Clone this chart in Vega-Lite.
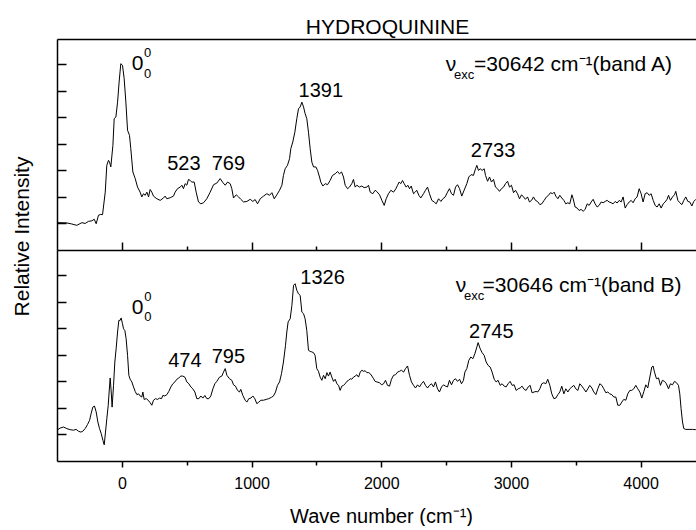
{
"$schema": "https://vega.github.io/schema/vega-lite/v6.json",
"background": "white",
"padding": {"left": 11, "top": 17, "right": 0, "bottom": 0},
"bounds": "flush",
"spacing": 0,
"config": {
  "font": "Liberation Sans",
  "view": {"stroke": null},
  "axis": {"domainColor": "black", "tickColor": "black", "domainWidth": 1.5, "tickWidth": 1.5, "grid": false, "labelColor": "black", "titleColor": "black", "labelFont": "Liberation Sans", "titleFont": "Liberation Sans", "titleFontWeight": "normal", "minExtent": 0},
  "text": {"font": "Liberation Sans", "color": "black"}
},
"datasets": {
  "specA": [
    {"x":-501,"y":1.03},{"x":-424,"y":1.02},{"x":-386,"y":0.98},{"x":-347,"y":0.93},{"x":-308,"y":1.03},{"x":-283,"y":1.00},{"x":-257,"y":1.08},{"x":-231,"y":1.10},{"x":-213,"y":1.16},{"x":-198,"y":0.99},{"x":-180,"y":1.31},{"x":-162,"y":1.34},{"x":-149,"y":1.33},{"x":-128,"y":2.18},{"x":-116,"y":3.19},{"x":-103,"y":3.38},{"x":-95,"y":3.31},{"x":-85,"y":3.13},{"x":-69,"y":3.94},{"x":-59,"y":4.95},{"x":-46,"y":5.01},{"x":-33,"y":5.57},{"x":-21,"y":6.33},{"x":-8,"y":7.02},{"x":5,"y":6.96},{"x":18,"y":6.45},{"x":31,"y":5.57},{"x":44,"y":4.51},{"x":59,"y":4.32},{"x":69,"y":3.82},{"x":85,"y":2.94},{"x":103,"y":2.69},{"x":121,"y":2.37},{"x":141,"y":2.18},{"x":154,"y":2.00},{"x":167,"y":2.12},{"x":180,"y":2.06},{"x":193,"y":2.18},{"x":206,"y":2.00},{"x":218,"y":2.28},{"x":231,"y":2.18},{"x":244,"y":2.03},{"x":270,"y":1.93},{"x":296,"y":1.87},{"x":321,"y":1.96},{"x":334,"y":2.03},{"x":347,"y":1.93},{"x":373,"y":1.97},{"x":398,"y":2.03},{"x":411,"y":2.18},{"x":429,"y":2.31},{"x":450,"y":2.37},{"x":463,"y":2.44},{"x":475,"y":2.31},{"x":488,"y":2.50},{"x":501,"y":2.44},{"x":514,"y":2.66},{"x":527,"y":2.62},{"x":540,"y":2.56},{"x":558,"y":2.56},{"x":573,"y":2.18},{"x":591,"y":1.81},{"x":609,"y":1.74},{"x":630,"y":1.78},{"x":655,"y":1.93},{"x":681,"y":2.18},{"x":707,"y":2.46},{"x":732,"y":2.52},
    {"x":758,"y":2.69},{"x":779,"y":2.54},{"x":797,"y":2.44},{"x":815,"y":2.56},{"x":835,"y":2.50},{"x":848,"y":2.31},{"x":861,"y":1.96},{"x":882,"y":2.08},{"x":900,"y":2.00},{"x":917,"y":1.91},{"x":938,"y":1.81},{"x":964,"y":1.83},{"x":990,"y":1.91},{"x":1010,"y":1.83},{"x":1028,"y":1.90},{"x":1046,"y":1.74},{"x":1067,"y":1.93},{"x":1092,"y":2.03},{"x":1118,"y":2.12},{"x":1139,"y":2.06},{"x":1157,"y":2.16},{"x":1175,"y":1.93},{"x":1195,"y":2.08},{"x":1216,"y":2.25},{"x":1234,"y":2.44},{"x":1246,"y":2.81},{"x":1259,"y":3.06},{"x":1277,"y":3.19},{"x":1293,"y":3.44},{"x":1303,"y":3.82},{"x":1318,"y":4.07},{"x":1334,"y":4.44},{"x":1349,"y":4.95},{"x":1362,"y":5.32},{"x":1375,"y":5.39},{"x":1388,"y":5.57},{"x":1401,"y":5.39},{"x":1413,"y":5.14},{"x":1426,"y":4.95},{"x":1439,"y":4.44},{"x":1452,"y":3.82},{"x":1465,"y":3.31},{"x":1478,"y":3.13},{"x":1496,"y":3.13},{"x":1509,"y":3.00},{"x":1524,"y":2.75},{"x":1534,"y":2.56},{"x":1550,"y":2.41},{"x":1568,"y":2.50},{"x":1586,"y":2.46},{"x":1606,"y":2.62},{"x":1624,"y":2.81},{"x":1645,"y":2.87},{"x":1663,"y":2.96},{"x":1678,"y":2.87},{"x":1694,"y":2.94},{"x":1709,"y":2.75},{"x":1722,"y":2.44},{"x":1740,"y":2.31},{"x":1755,"y":2.37},{"x":1773,"y":2.50},{"x":1786,"y":2.66},{"x":1799,"y":2.37},{"x":1812,"y":2.44},{"x":1832,"y":2.37},{"x":1850,"y":2.41},{"x":1868,"y":2.35},{"x":1889,"y":2.37},{"x":1902,"y":2.44},{"x":1915,"y":2.18},{"x":1935,"y":2.12},{"x":1953,"y":2.25},{"x":1966,"y":2.20},
    {"x":1987,"y":2.08},{"x":2005,"y":1.87},{"x":2023,"y":1.68},{"x":2038,"y":1.93},{"x":2056,"y":2.12},{"x":2074,"y":2.25},{"x":2095,"y":2.18},{"x":2113,"y":2.31},{"x":2126,"y":2.44},{"x":2138,"y":2.56},{"x":2151,"y":2.50},{"x":2164,"y":2.62},{"x":2177,"y":2.50},{"x":2192,"y":2.37},{"x":2205,"y":2.44},{"x":2218,"y":2.31},{"x":2231,"y":2.41},{"x":2249,"y":2.12},{"x":2262,"y":2.18},{"x":2274,"y":2.25},{"x":2290,"y":2.06},{"x":2305,"y":1.96},{"x":2326,"y":2.12},{"x":2341,"y":2.25},{"x":2357,"y":2.37},{"x":2372,"y":2.12},{"x":2390,"y":1.87},{"x":2408,"y":1.81},{"x":2424,"y":1.74},{"x":2442,"y":1.93},{"x":2460,"y":1.83},{"x":2475,"y":1.93},{"x":2493,"y":2.00},{"x":2511,"y":2.18},{"x":2526,"y":2.31},{"x":2542,"y":2.12},{"x":2557,"y":2.06},{"x":2573,"y":2.37},{"x":2588,"y":2.46},{"x":2604,"y":2.31},{"x":2621,"y":2.03},{"x":2639,"y":2.25},{"x":2660,"y":2.50},{"x":2675,"y":2.75},{"x":2693,"y":2.84},{"x":2711,"y":2.81},{"x":2727,"y":3.06},{"x":2737,"y":3.19},{"x":2750,"y":3.00},{"x":2763,"y":3.06},{"x":2778,"y":3.00},{"x":2794,"y":3.06},{"x":2804,"y":2.81},{"x":2820,"y":2.59},{"x":2835,"y":2.75},{"x":2850,"y":2.56},{"x":2866,"y":2.66},{"x":2881,"y":2.37},{"x":2896,"y":2.31},{"x":2912,"y":2.21},{"x":2927,"y":2.31},{"x":2943,"y":2.37},{"x":2958,"y":2.50},{"x":2974,"y":2.59},{"x":2989,"y":2.37},{"x":3004,"y":2.44},{"x":3020,"y":2.16},{"x":3035,"y":2.25},{"x":3051,"y":2.12},{"x":3066,"y":1.93},{"x":3082,"y":2.08},{"x":3097,"y":2.00},{"x":3112,"y":1.91},{"x":3128,"y":2.00},{"x":3143,"y":1.81},{"x":3159,"y":1.87},{"x":3174,"y":2.00},{"x":3189,"y":1.87},
    {"x":3205,"y":1.83},{"x":3223,"y":1.71},{"x":3238,"y":1.74},{"x":3256,"y":1.87},{"x":3274,"y":2.00},{"x":3290,"y":2.06},{"x":3305,"y":2.16},{"x":3321,"y":2.12},{"x":3333,"y":2.18},{"x":3346,"y":2.03},{"x":3362,"y":1.93},{"x":3377,"y":2.06},{"x":3392,"y":1.96},{"x":3408,"y":1.87},{"x":3423,"y":1.74},{"x":3439,"y":1.78},{"x":3454,"y":1.74},{"x":3470,"y":2.08},{"x":3480,"y":1.93},{"x":3495,"y":1.62},{"x":3511,"y":1.58},{"x":3526,"y":1.49},{"x":3541,"y":1.53},{"x":3557,"y":1.46},{"x":3572,"y":1.53},{"x":3588,"y":1.74},{"x":3603,"y":1.68},{"x":3619,"y":1.81},{"x":3634,"y":1.91},{"x":3649,"y":1.74},{"x":3665,"y":1.62},{"x":3680,"y":1.68},{"x":3696,"y":1.81},{"x":3711,"y":1.78},{"x":3727,"y":1.83},{"x":3742,"y":1.87},{"x":3757,"y":1.81},{"x":3773,"y":1.78},{"x":3788,"y":1.74},{"x":3804,"y":1.83},{"x":3819,"y":1.77},{"x":3835,"y":1.87},{"x":3850,"y":1.81},{"x":3865,"y":2.00},{"x":3881,"y":1.58},{"x":3896,"y":1.71},{"x":3912,"y":1.81},{"x":3927,"y":1.87},{"x":3942,"y":1.78},{"x":3958,"y":1.93},{"x":3973,"y":2.00},{"x":3989,"y":2.31},{"x":4004,"y":2.12},{"x":4019,"y":1.81},{"x":4035,"y":2.12},{"x":4050,"y":2.16},{"x":4066,"y":2.06},{"x":4081,"y":2.12},{"x":4097,"y":1.87},{"x":4112,"y":1.68},{"x":4127,"y":1.62},{"x":4143,"y":1.74},{"x":4158,"y":1.58},{"x":4174,"y":1.74},{"x":4189,"y":1.81},{"x":4204,"y":1.91},{"x":4215,"y":2.06},{"x":4230,"y":1.87},{"x":4246,"y":2.00},{"x":4261,"y":2.08},{"x":4271,"y":2.21},{"x":4287,"y":1.87},{"x":4302,"y":1.78},{"x":4318,"y":1.71},{"x":4333,"y":1.87},{"x":4348,"y":2.00},{"x":4364,"y":1.83},{"x":4379,"y":1.81},{"x":4395,"y":1.66},{"x":4410,"y":1.83},{"x":4426,"y":1.91}
  ],
  "specB": [
    {"x":-501,"y":1.16},{"x":-476,"y":1.24},{"x":-450,"y":1.28},{"x":-424,"y":1.22},{"x":-398,"y":1.18},{"x":-373,"y":1.16},{"x":-352,"y":1.19},{"x":-334,"y":1.12},{"x":-316,"y":1.09},{"x":-301,"y":1.12},{"x":-283,"y":1.22},{"x":-265,"y":1.37},{"x":-249,"y":1.53},{"x":-237,"y":1.78},{"x":-224,"y":2.03},{"x":-211,"y":2.07},{"x":-198,"y":1.85},{"x":-185,"y":1.47},{"x":-172,"y":1.22},{"x":-159,"y":1.03},{"x":-146,"y":0.78},{"x":-136,"y":0.61},{"x":-126,"y":1.09},{"x":-116,"y":1.59},{"x":-105,"y":2.10},{"x":-98,"y":2.60},{"x":-90,"y":3.13},{"x":-82,"y":2.60},{"x":-75,"y":2.03},{"x":-64,"y":2.85},{"x":-54,"y":3.73},{"x":-44,"y":4.23},{"x":-33,"y":4.86},{"x":-23,"y":5.30},{"x":-13,"y":5.30},{"x":-5,"y":5.39},{"x":5,"y":5.17},{"x":13,"y":4.98},{"x":23,"y":4.92},{"x":33,"y":4.61},{"x":44,"y":3.98},{"x":54,"y":3.23},{"x":64,"y":3.08},{"x":77,"y":2.98},{"x":90,"y":2.79},{"x":103,"y":2.62},{"x":116,"y":2.50},{"x":129,"y":2.53},{"x":141,"y":2.45},{"x":154,"y":2.41},{"x":162,"y":2.60},{"x":172,"y":2.32},{"x":188,"y":2.35},{"x":203,"y":2.29},{"x":218,"y":2.20},{"x":231,"y":2.10},{"x":244,"y":2.29},{"x":260,"y":2.35},{"x":275,"y":2.32},{"x":291,"y":2.37},{"x":306,"y":2.35},{"x":316,"y":2.47},{"x":332,"y":2.45},{"x":347,"y":2.50},{"x":362,"y":2.62},{"x":378,"y":2.79},{"x":393,"y":2.91},{"x":409,"y":2.98},{"x":424,"y":3.08},{"x":439,"y":3.13},{"x":455,"y":3.20},{"x":470,"y":3.20},{"x":486,"y":3.16},{"x":501,"y":2.98},{"x":517,"y":2.91},{"x":532,"y":2.79},{"x":547,"y":2.72},{"x":563,"y":2.60},{"x":578,"y":2.35},{"x":594,"y":2.35},{"x":609,"y":2.45},{"x":625,"y":2.37},{"x":640,"y":2.47},{"x":655,"y":2.35},{"x":671,"y":2.35},{"x":686,"y":2.45},{"x":702,"y":2.72},{"x":717,"y":2.91},{"x":732,"y":3.00},
    {"x":753,"y":3.16},{"x":771,"y":3.20},{"x":784,"y":3.35},{"x":797,"y":3.48},{"x":810,"y":3.23},{"x":830,"y":3.10},{"x":848,"y":3.04},{"x":861,"y":2.87},{"x":876,"y":2.82},{"x":892,"y":2.66},{"x":907,"y":2.60},{"x":917,"y":2.70},{"x":933,"y":2.47},{"x":951,"y":2.29},{"x":964,"y":2.22},{"x":979,"y":2.35},{"x":995,"y":2.37},{"x":1010,"y":2.45},{"x":1025,"y":2.35},{"x":1041,"y":2.16},{"x":1056,"y":2.22},{"x":1072,"y":2.29},{"x":1092,"y":2.29},{"x":1113,"y":2.32},{"x":1133,"y":2.35},{"x":1154,"y":2.40},{"x":1169,"y":2.45},{"x":1185,"y":2.60},{"x":1200,"y":2.85},{"x":1216,"y":2.98},{"x":1231,"y":3.29},{"x":1246,"y":3.73},{"x":1262,"y":4.36},{"x":1272,"y":4.86},{"x":1282,"y":5.24},{"x":1298,"y":5.36},{"x":1311,"y":5.86},{"x":1324,"y":6.62},{"x":1336,"y":6.68},{"x":1349,"y":6.43},{"x":1362,"y":6.30},{"x":1375,"y":6.24},{"x":1388,"y":5.61},{"x":1401,"y":5.55},{"x":1413,"y":5.36},{"x":1426,"y":4.92},{"x":1439,"y":4.17},{"x":1452,"y":4.13},{"x":1465,"y":4.11},{"x":1478,"y":4.08},{"x":1490,"y":3.98},{"x":1503,"y":3.48},{"x":1516,"y":3.38},{"x":1529,"y":3.16},{"x":1542,"y":3.04},{"x":1555,"y":3.23},{"x":1568,"y":3.10},{"x":1581,"y":3.33},{"x":1593,"y":3.20},{"x":1606,"y":3.35},{"x":1619,"y":3.16},{"x":1632,"y":3.00},{"x":1645,"y":3.08},{"x":1658,"y":2.91},{"x":1671,"y":2.85},{"x":1683,"y":2.66},{"x":1696,"y":2.82},{"x":1709,"y":2.85},{"x":1722,"y":2.91},{"x":1735,"y":3.00},{"x":1748,"y":3.04},{"x":1761,"y":3.10},{"x":1773,"y":3.08},{"x":1786,"y":3.16},{"x":1799,"y":3.20},{"x":1812,"y":3.25},{"x":1825,"y":3.16},{"x":1838,"y":3.35},{"x":1850,"y":3.42},{"x":1863,"y":3.38},{"x":1876,"y":3.40},{"x":1889,"y":3.33},{"x":1902,"y":3.33},{"x":1915,"y":3.29},{"x":1928,"y":3.20},{"x":1941,"y":3.10},{"x":1953,"y":3.00},{"x":1966,"y":2.98},
    {"x":1987,"y":2.95},{"x":2002,"y":2.87},{"x":2018,"y":2.91},{"x":2033,"y":3.04},{"x":2048,"y":2.85},{"x":2064,"y":2.82},{"x":2079,"y":3.08},{"x":2095,"y":3.23},{"x":2110,"y":3.25},{"x":2126,"y":3.35},{"x":2141,"y":3.38},{"x":2156,"y":3.42},{"x":2172,"y":3.35},{"x":2187,"y":3.48},{"x":2203,"y":3.58},{"x":2218,"y":3.23},{"x":2233,"y":2.98},{"x":2249,"y":2.85},{"x":2264,"y":2.75},{"x":2280,"y":2.87},{"x":2295,"y":2.79},{"x":2310,"y":2.91},{"x":2326,"y":3.00},{"x":2341,"y":2.85},{"x":2357,"y":2.75},{"x":2372,"y":2.85},{"x":2388,"y":2.91},{"x":2403,"y":2.79},{"x":2418,"y":2.98},{"x":2434,"y":2.72},{"x":2449,"y":2.60},{"x":2465,"y":2.79},{"x":2480,"y":2.87},{"x":2496,"y":2.82},{"x":2511,"y":2.79},{"x":2526,"y":3.04},{"x":2542,"y":2.87},{"x":2557,"y":3.04},{"x":2573,"y":3.10},{"x":2588,"y":3.00},{"x":2604,"y":3.08},{"x":2619,"y":2.91},{"x":2634,"y":3.04},{"x":2645,"y":3.35},{"x":2660,"y":3.48},{"x":2675,"y":3.79},{"x":2691,"y":3.92},{"x":2706,"y":3.85},{"x":2722,"y":4.04},{"x":2737,"y":4.29},{"x":2747,"y":4.46},{"x":2763,"y":4.23},{"x":2778,"y":4.08},{"x":2794,"y":3.98},{"x":2809,"y":3.73},{"x":2824,"y":3.60},{"x":2840,"y":3.54},{"x":2855,"y":3.35},{"x":2871,"y":3.08},{"x":2886,"y":2.98},{"x":2901,"y":3.04},{"x":2917,"y":2.85},{"x":2932,"y":2.91},{"x":2948,"y":2.82},{"x":2963,"y":2.79},{"x":2978,"y":2.91},{"x":2994,"y":3.00},{"x":3009,"y":2.85},{"x":3025,"y":2.87},{"x":3040,"y":2.66},{"x":3056,"y":2.72},{"x":3071,"y":2.75},{"x":3086,"y":2.82},{"x":3102,"y":2.70},{"x":3117,"y":2.66},{"x":3133,"y":2.79},{"x":3148,"y":2.85},{"x":3163,"y":2.57},{"x":3179,"y":2.60},{"x":3194,"y":2.62},
    {"x":3207,"y":2.60},{"x":3223,"y":2.72},{"x":3238,"y":2.91},{"x":3254,"y":2.95},{"x":3269,"y":2.91},{"x":3284,"y":3.08},{"x":3300,"y":2.85},{"x":3315,"y":2.53},{"x":3331,"y":2.35},{"x":3346,"y":2.37},{"x":3362,"y":2.50},{"x":3377,"y":2.60},{"x":3392,"y":2.82},{"x":3408,"y":2.53},{"x":3423,"y":2.72},{"x":3439,"y":2.60},{"x":3454,"y":2.72},{"x":3470,"y":2.79},{"x":3485,"y":2.85},{"x":3500,"y":2.72},{"x":3516,"y":2.66},{"x":3531,"y":2.91},{"x":3547,"y":2.82},{"x":3562,"y":2.72},{"x":3578,"y":2.60},{"x":3593,"y":2.72},{"x":3608,"y":2.85},{"x":3624,"y":2.75},{"x":3639,"y":2.60},{"x":3655,"y":2.50},{"x":3670,"y":2.72},{"x":3685,"y":2.91},{"x":3701,"y":2.85},{"x":3716,"y":2.72},{"x":3732,"y":2.57},{"x":3747,"y":2.60},{"x":3762,"y":2.53},{"x":3778,"y":2.50},{"x":3793,"y":2.41},{"x":3809,"y":2.41},{"x":3824,"y":2.10},{"x":3840,"y":2.10},{"x":3855,"y":2.22},{"x":3870,"y":2.32},{"x":3886,"y":2.29},{"x":3901,"y":2.53},{"x":3917,"y":2.66},{"x":3932,"y":2.66},{"x":3947,"y":2.72},{"x":3963,"y":2.85},{"x":3978,"y":2.72},{"x":3994,"y":2.60},{"x":4009,"y":2.37},{"x":4025,"y":2.62},{"x":4040,"y":2.87},{"x":4055,"y":2.75},{"x":4071,"y":3.16},{"x":4086,"y":3.54},{"x":4096,"y":3.58},{"x":4107,"y":3.35},{"x":4122,"y":3.10},{"x":4138,"y":3.13},{"x":4153,"y":2.85},{"x":4168,"y":3.04},{"x":4184,"y":3.00},{"x":4199,"y":2.91},{"x":4215,"y":2.72},{"x":4230,"y":2.91},{"x":4246,"y":2.87},{"x":4261,"y":3.00},{"x":4276,"y":2.95},{"x":4292,"y":2.85},{"x":4302,"y":2.53},{"x":4312,"y":1.97},{"x":4323,"y":1.47},{"x":4333,"y":1.22},{"x":4348,"y":1.19},{"x":4374,"y":1.19},{"x":4400,"y":1.19},{"x":4426,"y":1.18}
  ],
  "peaksA": [
    {"x":478,"y":3.01,"text":"523"},{"x":821,"y":3.01,"text":"769"},{"x":1534,"y":5.76,"text":"1391"},{"x":2862,"y":3.50,"text":"2733"}
  ],
  "leftA": [
    {"x":77,"y":6.80,"text":"0"},{"x":2498,"y":6.76,"text":"ν"},{"x":2716,"y":6.76,"text":"=30642 cm⁻¹(band A)"}
  ],
  "smallA": [
    {"x":170,"y":7.27,"text":"0"},{"x":170,"y":6.47,"text":"0"},{"x":2562,"y":6.45,"text":"exc"}
  ],
  "peaksB": [
    {"x":486,"y":3.54,"text":"474"},{"x":821,"y":3.70,"text":"795"},{"x":1548,"y":6.68,"text":"1326"},{"x":2849,"y":4.62,"text":"2745"}
  ],
  "leftB": [
    {"x":77,"y":5.54,"text":"0"},{"x":2575,"y":6.36,"text":"ν"},{"x":2781,"y":6.36,"text":"=30646 cm⁻¹(band B)"}
  ],
  "smallB": [
    {"x":172,"y":6.03,"text":"0"},{"x":172,"y":5.27,"text":"0"},{"x":2639,"y":6.07,"text":"exc"}
  ]
},
"vconcat": [
  {
    "width": 639, "height": 211,
    "title": {"text": "HYDROQUININE", "fontSize": 21, "fontWeight": "normal", "font": "Liberation Sans", "anchor": "middle", "dx": 11, "offset": -16, "baseline": "alphabetic", "color": "black"},
    "resolve": {"axis": {"x": "independent", "y": "independent"}},
    "layer": [
      {
        "data": {"name": "specA"},
        "mark": {"type": "line", "color": "black", "strokeWidth": 1, "clip": true},
        "encoding": {
          "x": {"field": "x", "type": "quantitative", "scale": {"domain": [-500, 4427], "nice": false, "zero": false},
                "axis": {"orient": "bottom", "values": [0,500,1000,1500,2000,2500,3000,3500,4000], "labels": false, "title": null,
                         "tickSize": {"condition": {"test": "datum.value % 1000 === 0", "value": -8}, "value": -4}}},
          "y": {"field": "y", "type": "quantitative", "scale": {"domain": [0, 7.95], "nice": false, "zero": false},
                "axis": {"orient": "left", "values": [1,2,3,4,5,6,7], "labels": false, "tickSize": -9, "title": "Relative Intensity", "titleFontSize": 21,
                         "titleX": -29, "titleY": 197, "titleAlign": "center", "titleBaseline": "alphabetic", "titleAngle": 270}}
        }
      },
      {
        "data": {"name": "peaksA"},
        "mark": {"type": "text", "fontSize": 20, "align": "center", "baseline": "alphabetic", "color": "black"},
        "encoding": {
          "x": {"field": "x", "type": "quantitative", "axis": {"orient": "top", "ticks": false, "labels": false, "title": null, "minExtent": 0, "maxExtent": 0}},
          "y": {"field": "y", "type": "quantitative", "axis": null},
          "text": {"field": "text"}
        }
      },
      {
        "data": {"name": "leftA"},
        "mark": {"type": "text", "fontSize": 21, "align": "left", "baseline": "alphabetic", "color": "black"},
        "encoding": {
          "x": {"field": "x", "type": "quantitative", "axis": null},
          "y": {"field": "y", "type": "quantitative", "axis": null},
          "text": {"field": "text"}
        }
      },
      {
        "data": {"name": "smallA"},
        "mark": {"type": "text", "fontSize": 13, "align": "left", "baseline": "alphabetic", "color": "black"},
        "encoding": {
          "x": {"field": "x", "type": "quantitative", "axis": null},
          "y": {"field": "y", "type": "quantitative", "axis": null},
          "text": {"field": "text"}
        }
      }
    ]
  },
  {
    "width": 639, "height": 211,
    "resolve": {"axis": {"x": "independent", "y": "independent"}},
    "layer": [
      {
        "data": {"name": "specB"},
        "mark": {"type": "line", "color": "black", "strokeWidth": 1, "clip": true},
        "encoding": {
          "x": {"field": "x", "type": "quantitative", "scale": {"domain": [-500, 4427], "nice": false, "zero": false},
                "axis": {"orient": "bottom", "values": [0,500,1000,1500,2000,2500,3000,3500,4000], "format": "d",
                         "labelExpr": "datum.value % 1000 === 0 ? datum.label : ''", "labelFontSize": 16, "labelPadding": 8,
                         "tickSize": {"condition": {"test": "datum.value % 1000 === 0", "value": 6}, "value": 4},
                         "title": "Wave number (cm⁻¹)", "titleFontSize": 20, "titlePadding": 15, "titleX": 324}},
          "y": {"field": "y", "type": "quantitative", "scale": {"domain": [0, 7.95], "nice": false, "zero": false},
                "axis": {"orient": "left", "values": [1,2,3,4,5,6,7], "labels": false, "tickSize": -9, "title": null}}
        }
      },
      {
        "data": {"name": "peaksB"},
        "mark": {"type": "text", "fontSize": 20, "align": "center", "baseline": "alphabetic", "color": "black"},
        "encoding": {
          "x": {"field": "x", "type": "quantitative", "axis": null},
          "y": {"field": "y", "type": "quantitative", "axis": null},
          "text": {"field": "text"}
        }
      },
      {
        "data": {"name": "leftB"},
        "mark": {"type": "text", "fontSize": 21, "align": "left", "baseline": "alphabetic", "color": "black"},
        "encoding": {
          "x": {"field": "x", "type": "quantitative", "axis": null},
          "y": {"field": "y", "type": "quantitative", "axis": null},
          "text": {"field": "text"}
        }
      },
      {
        "data": {"name": "smallB"},
        "mark": {"type": "text", "fontSize": 13, "align": "left", "baseline": "alphabetic", "color": "black"},
        "encoding": {
          "x": {"field": "x", "type": "quantitative", "axis": null},
          "y": {"field": "y", "type": "quantitative", "axis": null},
          "text": {"field": "text"}
        }
      }
    ]
  }
]
}
